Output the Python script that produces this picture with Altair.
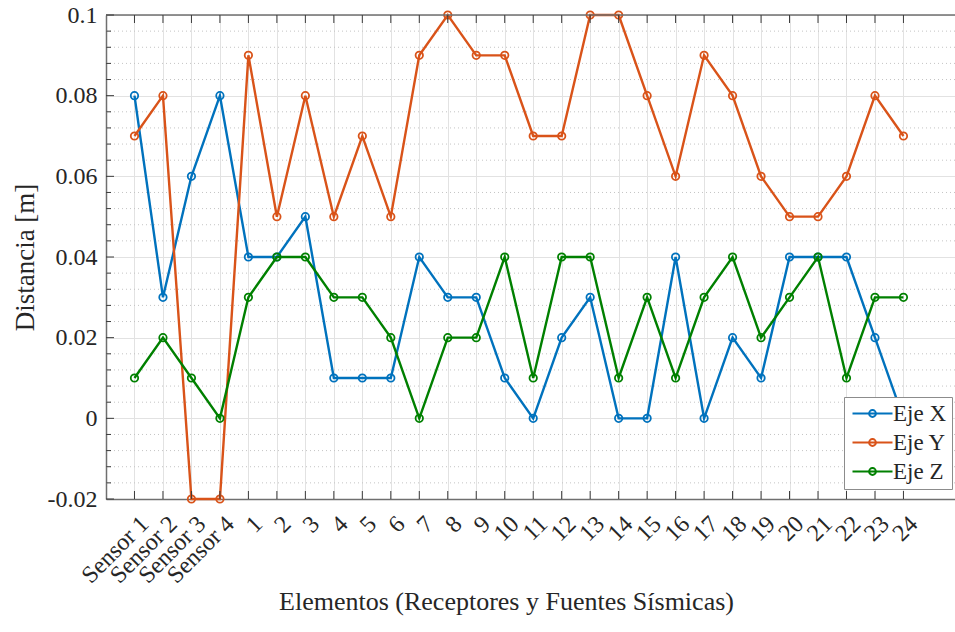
import json
import altair as alt
import pandas as pd

# Element labels along the x axis
categories = ["Sensor 1", "Sensor 2", "Sensor 3", "Sensor 4"] + [str(i) for i in range(1, 25)]

# Distance per axis [m]
eje_x = [0.08, 0.03, 0.06, 0.08, 0.04, 0.04, 0.05, 0.01, 0.01, 0.01, 0.04, 0.03, 0.03, 0.01,
         0.00, 0.02, 0.03, 0.00, 0.00, 0.04, 0.00, 0.02, 0.01, 0.04, 0.04, 0.04, 0.02, 0.00]
eje_y = [0.07, 0.08, -0.02, -0.02, 0.09, 0.05, 0.08, 0.05, 0.07, 0.05, 0.09, 0.10, 0.09, 0.09,
         0.07, 0.07, 0.10, 0.10, 0.08, 0.06, 0.09, 0.08, 0.06, 0.05, 0.05, 0.06, 0.08, 0.07]
eje_z = [0.01, 0.02, 0.01, 0.00, 0.03, 0.04, 0.04, 0.03, 0.03, 0.02, 0.00, 0.02, 0.02, 0.04,
         0.01, 0.04, 0.04, 0.01, 0.03, 0.01, 0.03, 0.04, 0.02, 0.03, 0.04, 0.01, 0.03, 0.03]

series_names = ["Eje X", "Eje Y", "Eje Z"]
series_colors = ["#0072BD", "#D95319", "#008000"]

y_major = [-0.02, 0.0, 0.02, 0.04, 0.06, 0.08, 0.1]
y_minor_step = 0.004
x_max = 29.81

W, H = 849, 484
FONT = "Liberation Serif"
TEXT = "#262626"
FRAME = "#6f6f6f"

idx = list(range(1, len(categories) + 1))
rows = []
for name, vals in zip(series_names, [eje_x, eje_y, eje_z]):
    for i, v in zip(idx, vals):
        rows.append({"idx": i, "serie": name, "valor": v})
df = pd.DataFrame(rows)

y_minor = [round(y_major[0] + k * y_minor_step, 3)
           for k in range(int(round((y_major[-1] - y_major[0]) / y_minor_step)) + 1)]
y_minor = [v for v in y_minor if all(abs(v - m) > 1e-9 for m in y_major)]

xs = alt.Scale(domain=[0, x_max], nice=False, zero=False)
ys = alt.Scale(domain=[y_major[0], y_major[-1]], nice=False, zero=False)

label_expr = json.dumps(categories) + "[datum.value - 1]"
x_axis = alt.Axis(
    values=idx, labelExpr=label_expr, grid=True, gridColor="#e2e2e2", gridWidth=1,
    tickSize=0, labelAngle=-45, labelAlign="right", labelBaseline="middle",
    labelPadding=21, labelOffset=10, labelFontSize=24, labelFont=FONT, labelColor=TEXT,
    labelOverlap=False, labelFlush=False, labelBound=False,
    domainColor=FRAME, domainWidth=1.5,
    title="Elementos (Receptores y Fuentes Sísmicas)", titleFont=FONT, titleFontSize=26,
    titleFontWeight="normal", titleColor=TEXT, titleX=400, titleY=110,
    titleAnchor="middle", titleAlign="center", titleBaseline="alphabetic",
)
y_axis = alt.Axis(
    values=y_major, labelExpr="datum.value == 0 ? '0' : toString(round(datum.value * 100) / 100)",
    grid=True, gridColor="#e2e2e2", gridWidth=1, tickSize=0, labelPadding=9,
    labelFontSize=24, labelFont=FONT, labelColor=TEXT,
    domainColor=FRAME, domainWidth=1.5,
    title="Distancia [m]", titleFont=FONT, titleFontSize=27, titleFontWeight="normal",
    titleColor=TEXT, titleX=-73, titleY=H / 2, titleAngle=-90,
    titleAlign="center", titleBaseline="alphabetic",
)

# Legend glyph: a 40px line segment with a small open circle in its middle.
# The glyph's layout box is 16px wide, the path reaches to its right.
legend_symbol = ("M-1,0H4M1.925,0A0.425,0.425,0,1,1,1.075,0"
                 "A0.425,0.425,0,1,1,1.925,0")
legend = alt.Legend(
    title=None, orient="none", legendX=738, legendY=382,
    symbolType=legend_symbol, symbolSize=256, symbolStrokeWidth=2,
    symbolFillColor="transparent", symbolOpacity=1,
    labelFont=FONT, labelFontSize=23, labelColor=TEXT, labelOffset=21,
    padding=5, rowPadding=5, fillColor="white", strokeColor="#8c8c8c",
)
color = alt.Color("serie:N", scale=alt.Scale(domain=series_names, range=series_colors),
                  legend=legend)

base = alt.Chart(df)

# Minor dotted grid
minor_grid = alt.Chart(pd.DataFrame({"v": y_minor})).mark_rule(
    color="#c4c4c4", strokeWidth=1, strokeDash=[1, 3]
).encode(y=alt.Y("v:Q", scale=ys, axis=y_axis))

layers = [minor_grid]
for name in series_names:
    sub = base.transform_filter(alt.datum.serie == name)
    layers.append(sub.mark_line(strokeWidth=2.4).encode(
        x=alt.X("idx:Q", scale=xs, axis=x_axis),
        y=alt.Y("valor:Q", scale=ys, axis=y_axis),
        color=color,
    ))
    layers.append(sub.mark_point(filled=False, size=55, strokeWidth=1.8, opacity=1).encode(
        x=alt.X("idx:Q", scale=xs, axis=x_axis),
        y=alt.Y("valor:Q", scale=ys, axis=y_axis),
        color=color,
    ))

# Frame top edge and inward tick marks
tick_color = "#3a3a3a"
top_edge = alt.Chart(pd.DataFrame({"v": [y_major[-1]]})).mark_rule(
    color=FRAME, strokeWidth=1.5).encode(y=alt.Y("v:Q", scale=ys, axis=y_axis))
x_ticks_df = pd.DataFrame({"idx": idx})
bottom_ticks = alt.Chart(x_ticks_df).mark_rule(color=tick_color, strokeWidth=1).encode(
    x=alt.X("idx:Q", scale=xs, axis=x_axis), y=alt.value(H), y2=alt.value(H - 8))
top_ticks = alt.Chart(x_ticks_df).mark_rule(color=tick_color, strokeWidth=1).encode(
    x=alt.X("idx:Q", scale=xs, axis=x_axis), y=alt.value(0), y2=alt.value(8))
left_major = alt.Chart(pd.DataFrame({"v": y_major})).mark_rule(
    color=tick_color, strokeWidth=1).encode(
    y=alt.Y("v:Q", scale=ys, axis=y_axis), x=alt.value(0), x2=alt.value(8))
left_minor = alt.Chart(pd.DataFrame({"v": y_minor})).mark_rule(
    color=tick_color, strokeWidth=1).encode(
    y=alt.Y("v:Q", scale=ys, axis=y_axis), x=alt.value(0), x2=alt.value(5))

layers += [top_edge, bottom_ticks, top_ticks, left_major, left_minor]

chart = alt.layer(*layers).properties(
    width=W, height=H,
    autosize=alt.AutoSizeParams(type="none"),
    padding={"left": 106, "top": 15, "right": 0, "bottom": 133},
    background="white",
).configure(font=FONT).configure_view(stroke=None).configure_legend(
    symbolFillColor="transparent", labelFont=FONT, labelFontSize=23, labelColor=TEXT,
    labelLimit=200,
)

chart.save("out.html", embed_options={"renderer": "svg", "actions": False})
